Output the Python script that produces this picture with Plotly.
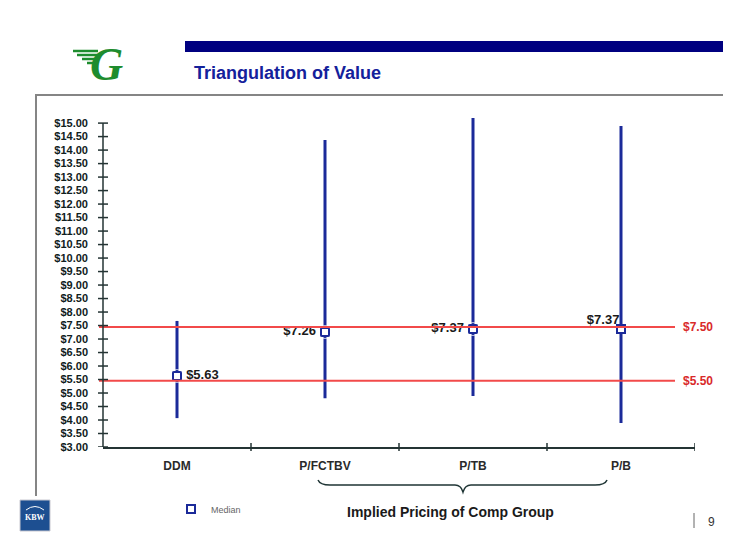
import plotly.graph_objs as go


# 数据
categories = ['DDM', 'P/FCTBV', 'P/TB', 'P/B']
range_low = [4.07, 4.81, 4.89, 3.89]
range_high = [7.67, 14.37, 15.19, 14.89]
median_values = [5.63, 7.26, 7.37, 7.37]
median_labels = ['$5.63', '$7.26', '$7.37', '$7.37']
median_text_pos = ['middle right', 'middle left', 'middle left', 'top left']

ref_levels = [7.45, 5.45]
ref_labels = ['$7.50', '$5.50']

y_ticks = [3.0 + 0.5 * i for i in range(25)]
y_tick_text = ['$%.2f' % v for v in y_ticks]


# 页面默认有 8px 的 body 边距，所以图的尺寸减去 8
OFF = 8
W, H = 750 - OFF, 549 - OFF
# 绘图区在屏幕上的位置（像素）
PX0, PX1, PY0, PY1 = 103, 695, 115, 447
PW = PX1 - PX0
PH = PY1 - PY0
L, T = PX0 - OFF, PY0 - OFF
R, B = W - (PX1 - OFF), H - (PY1 - OFF)


# 屏幕像素 -> paper 坐标
def fx(p):
    return (p - PX0) / PW


def fy(p):
    return (PY1 - p) / PH


def add_text(fig, x, y, text, size, color, family=None, xanchor='center'):
    font = dict(size=size, color=color)
    if family:
        font['family'] = family
    fig.add_annotation(xref='paper', yref='paper', x=fx(x), y=fy(y),
                       text=text, showarrow=False,
                       xanchor=xanchor, yanchor='middle', font=font)


x_pos = [i + 0.5 for i in range(len(categories))]
bar_color = '#1B2A99'
axis_color = '#243434'

# 区间竖线
line_x, line_y = [], []
for x, lo, hi in zip(x_pos, range_low, range_high):
    line_x += [x, x, None]
    line_y += [lo, hi, None]

figure = go.Figure()

figure.add_trace(go.Scatter(
    x=line_x, y=line_y, mode='lines',
    line=dict(color=bar_color, width=3),
    showlegend=False, hoverinfo='skip'
))

# 参考线
for lvl, lab in zip(ref_levels, ref_labels):
    figure.add_shape(type='line', xref='paper', yref='y',
                     x0=fx(99), x1=fx(675), y0=lvl, y1=lvl,
                     line=dict(color='#F24A4A', width=2))
    figure.add_annotation(xref='paper', yref='y', x=fx(681), y=lvl,
                          text='<b>%s</b>' % lab, showarrow=False,
                          xanchor='left', yanchor='middle',
                          font=dict(size=12, color='#D92A2A'))

# 中位数
figure.add_trace(go.Scatter(
    x=x_pos, y=median_values, mode='markers', name='Median',
    marker=dict(symbol='square', size=8, color='white',
                line=dict(color=bar_color, width=2)),
    cliponaxis=False
))
# 标签（透明点用来控制文字与点的间距）
figure.add_trace(go.Scatter(
    x=x_pos, y=median_values, mode='markers+text',
    text=['<b>%s</b>' % t for t in median_labels],
    textposition=median_text_pos,
    textfont=dict(size=13, color='#1a1a1a'),
    marker=dict(size=[13, 13, 13, 1], color='rgba(0,0,0,0)'),
    showlegend=False, cliponaxis=False, hoverinfo='skip'
))

# y轴线与十字刻度
figure.add_shape(type='line', xref='paper', yref='y', x0=0, x1=0,
                 y0=y_ticks[0], y1=y_ticks[-1],
                 line=dict(color=axis_color, width=1.5))
for v in y_ticks:
    figure.add_shape(type='line', xref='paper', yref='y',
                     x0=-5 / PW, x1=5 / PW, y0=v, y1=v,
                     line=dict(color=axis_color, width=1.5))

# x轴分隔刻度
for i in range(1, len(categories) + 1):
    figure.add_shape(type='line', xref='x', yref='paper',
                     x0=i, x1=i, y0=-4 / PH, y1=4 / PH,
                     line=dict(color=axis_color, width=1.5))

# 大括号
pts = [('M', 318, 480), ('Q', 320, 485), ('', 330, 485), ('L', 455, 485),
       ('Q', 461, 485), ('', 463, 492), ('Q', 465, 485), ('', 471, 485),
       ('L', 595, 485), ('Q', 605, 485), ('', 607, 480)]
path = ' '.join('%s %.4f,%.4f' % (c, fx(a), fy(b)) if c else '%.4f,%.4f' % (fx(a), fy(b))
                for c, a, b in pts)
figure.add_shape(type='path', xref='paper', yref='paper', path=path,
                 line=dict(color='#1f3535', width=1.5))
add_text(figure, 450, 512, '<b>Implied Pricing of Comp Group</b>', 14, '#1a1a1a')

# 页眉
figure.add_shape(type='rect', xref='paper', yref='paper',
                 x0=fx(185), x1=fx(723), y0=fy(52), y1=fy(41),
                 fillcolor='#000080', line=dict(width=0))
add_text(figure, 192, 73, '<b>Triangulation of Value</b>', 18, '#14219B', xanchor='left')

# 边框
figure.add_shape(type='line', xref='paper', yref='paper',
                 x0=fx(35), x1=fx(723), y0=fy(95), y1=fy(95),
                 line=dict(color='#858585', width=2))
figure.add_shape(type='line', xref='paper', yref='paper',
                 x0=fx(36), x1=fx(36), y0=fy(95), y1=fy(496),
                 line=dict(color='#858585', width=2))

# 绿色标志
for y, x0 in [(51, 73), (55, 77), (59, 82), (63, 87)]:
    figure.add_shape(type='line', xref='paper', yref='paper',
                     x0=fx(x0), x1=fx(98), y0=fy(y), y1=fy(y),
                     line=dict(color='#1E8C2E', width=2.5))
add_text(figure, 106, 64, '<b><i>G</i></b>', 46, '#1E8C2E', family='Liberation Serif')

# KBW 标志
figure.add_shape(type='rect', xref='paper', yref='paper',
                 x0=fx(20), x1=fx(50), y0=fy(531), y1=fy(500),
                 fillcolor='#1D4F91', line=dict(color='#c8c8d0', width=1))
figure.add_shape(type='path', xref='paper', yref='paper',
                 path='M %.4f,%.4f Q %.4f,%.4f %.4f,%.4f' % (fx(26), fy(510), fx(35), fy(503), fx(44), fy(510)),
                 line=dict(color='white', width=1))
add_text(figure, 35, 517, '<b>KBW</b>', 8, 'white', family='Liberation Serif')

# 页码
figure.add_shape(type='line', xref='paper', yref='paper',
                 x0=fx(694), x1=fx(694), y0=fy(513), y1=fy(528),
                 line=dict(color='#666666', width=1))
add_text(figure, 711, 522, '9', 12, '#333333')

figure.update_layout(
    width=W, height=H,
    margin=go.layout.Margin(l=L, r=R, t=T, b=B),
    paper_bgcolor='white',
    plot_bgcolor='white',
    font=dict(family='Arial, Liberation Sans, sans-serif'),
    showlegend=True,
    legend=dict(x=fx(171), y=fy(509), xanchor='left', yanchor='middle',
                font=dict(size=9, color='#666666'), bgcolor='rgba(0,0,0,0)',
                itemwidth=30),
    xaxis=dict(range=[0, len(categories)], tickvals=x_pos,
               ticktext=['<b>%s</b>' % c for c in categories],
               showgrid=False, zeroline=False, showline=True,
               linecolor=axis_color, linewidth=1.5, ticks='',
               ticklabelstandoff=7,
               tickfont=dict(size=12, color='#2a2a2a')),
    yaxis=dict(range=[3, 15.3], tickvals=y_ticks,
               ticktext=['<b>%s</b>' % t for t in y_tick_text],
               showgrid=False, zeroline=False, showline=False, ticks='',
               ticklabelstandoff=14,
               tickfont=dict(size=11, color='#102020'))
)

figure.write_html('out.html')
